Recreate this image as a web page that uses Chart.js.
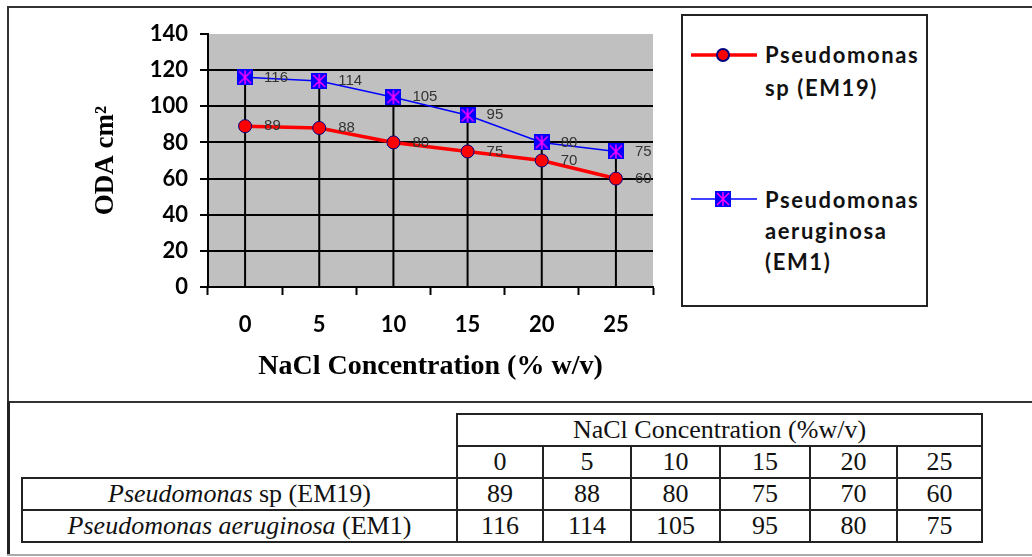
<!DOCTYPE html>
<html>
<head>
<meta charset="utf-8">
<script src="https://cdn.jsdelivr.net/npm/chart.js@4.4.1/dist/chart.umd.min.js"></script>
<style>
  html, body { margin:0; padding:0; background:#fff; width:1032px; height:557px; overflow:hidden; position:relative; }
  .frameTop { position:absolute; left:7px; top:6px; width:1025px; height:2px; background:#333; }
  .frameLeft1 { position:absolute; left:7px; top:6px; width:2px; height:396px; background:#333; }
  .frameMid { position:absolute; left:7px; top:401px; width:1025px; height:2px; background:#333; }
  .frameLeft2 { position:absolute; left:7px; top:401px; width:3px; height:154px; background:#222; }
  .frameBottom { position:absolute; left:7px; top:554px; width:1025px; height:2px; background:#aaa; }
  #chartWrap { position:absolute; left:0; top:0; width:680px; height:400px; }
  #legend { position:absolute; left:681px; top:14px; width:243px; height:289px; border:2px solid #222; box-sizing:content-box; }
  .item { position:absolute; left:0; }
  .item svg { position:absolute; left:8px; }
  .item .txt { position:absolute; left:82px; font-family:Lato, sans-serif; font-weight:bold; font-size:22px; letter-spacing:1.6px; color:#111; white-space:nowrap; }
  #tbl { position:absolute; left:21px; top:413px; border-collapse:collapse; font-family:"Liberation Serif", "Times New Roman", serif; font-size:26px; color:#111; }
  #tbl td { border:2px solid #222; text-align:center; padding:0; height:30px; line-height:28px; }
  #tbl td.blank { border:none; }
</style>
</head>
<body>
<div class="frameTop"></div>
<div class="frameLeft1"></div>
<div class="frameMid"></div>
<div class="frameLeft2"></div>
<div class="frameBottom"></div>
<div id="chartWrap"><canvas id="c" width="680" height="400"></canvas></div>
<div id="legend"></div>
<table id="tbl"></table>
<script>
// ---- data ----
const categories = ['0', '5', '10', '15', '20', '25'];
const spEM19 = [89, 88, 80, 75, 70, 60];
const aerEM1 = [116, 114, 105, 95, 80, 75];
const seriesNames = ['Pseudomonas sp (EM19)', 'Pseudomonas aeruginosa (EM1)'];
const yMin = 0, yMax = 140, yStep = 20;
const xTitle = 'NaCl Concentration (% w/v)';
const yTitle = 'ODA cm²';
const tableHeader = 'NaCl Concentration (%w/v)';

// ---- blue square marker with magenta asterisk ----
function makeStarSquare(size) {
  const cv = document.createElement('canvas');
  cv.width = size; cv.height = size;
  const g = cv.getContext('2d');
  g.fillStyle = '#0000ff';
  g.fillRect(0, 0, size, size);
  g.strokeStyle = '#ff00ff';
  g.lineWidth = 1.5;
  g.beginPath();
  g.moveTo(2, 2); g.lineTo(size - 2, size - 2);
  g.moveTo(size - 2, 2); g.lineTo(2, size - 2);
  g.moveTo(size / 2, 1); g.lineTo(size / 2, size - 1);
  g.stroke();
  return cv;
}
const starSquare = makeStarSquare(16);

// ---- plugins ----
const plotBg = {
  id: 'plotBg',
  beforeDraw(chart) {
    const { ctx, chartArea: a } = chart;
    ctx.save();
    ctx.fillStyle = '#c0c0c0';
    ctx.fillRect(a.left, a.top, a.right - a.left, a.bottom - a.top);
    ctx.restore();
  }
};
const dropLines = {
  id: 'dropLines',
  beforeDatasetsDraw(chart) {
    const { ctx, chartArea: a } = chart;
    const metas = chart.data.datasets.map((d, i) => chart.getDatasetMeta(i));
    ctx.save();
    ctx.strokeStyle = '#000';
    ctx.lineWidth = 2;
    categories.forEach((c, j) => {
      let topY = a.bottom, x = null;
      metas.forEach(m => { const el = m.data[j]; if (el) { x = el.x; topY = Math.min(topY, el.y); } });
      if (x === null) return;
      ctx.beginPath();
      ctx.moveTo(x, topY);
      ctx.lineTo(x, a.bottom);
      ctx.stroke();
    });
    ctx.restore();
  }
};
const valueLabels = {
  id: 'valueLabels',
  afterDatasetsDraw(chart) {
    const { ctx } = chart;
    ctx.save();
    ctx.font = '15px "Liberation Sans", Arial, sans-serif';
    ctx.fillStyle = '#333';
    ctx.textAlign = 'left';
    ctx.textBaseline = 'middle';
    chart.data.datasets.forEach((ds, i) => {
      chart.getDatasetMeta(i).data.forEach((el, j) => {
        ctx.fillText(String(ds.data[j]), el.x + 19, el.y);
      });
    });
    ctx.restore();
  }
};

new Chart(document.getElementById('c'), {
  type: 'line',
  data: {
    labels: categories,
    datasets: [
      {
        label: seriesNames[0],
        data: spEM19,
        borderColor: '#ff0000',
        borderWidth: 3.5,
        pointStyle: 'circle',
        pointRadius: 6.5,
        pointBackgroundColor: '#ff0000',
        pointBorderColor: '#000080',
        pointBorderWidth: 1,
        tension: 0
      },
      {
        label: seriesNames[1],
        data: aerEM1,
        borderColor: '#0000ff',
        borderWidth: 1.5,
        pointStyle: starSquare,
        pointRadius: 8,
        tension: 0
      }
    ]
  },
  options: {
    responsive: false,
    animation: false,
    devicePixelRatio: 1,
    layout: { padding: { top: 34, right: 27, left: 0, bottom: 0 } },
    plugins: { legend: { display: false }, tooltip: { enabled: false } },
    scales: {
      x: {
        type: 'category',
        offset: true,
        grid: { offset: true, drawOnChartArea: false, drawTicks: true, tickLength: 8, tickColor: '#000', tickWidth: 2 },
        border: { display: true, color: '#000', width: 2 },
        ticks: { color: '#000', padding: 17, font: { family: 'Lato', weight: 'bold', size: 22 } },
        title: { display: true, text: xTitle, color: '#000', font: { family: '"Liberation Serif"', weight: 'bold', size: 28 }, padding: { top: 0, bottom: 16 } },
        afterFit(s) { s.height = 113; }
      },
      y: {
        min: yMin, max: yMax,
        ticks: { stepSize: yStep, color: '#000', padding: 12, font: { family: 'Lato', weight: 'bold', size: 22 } },
        grid: {
          color: ctx => (ctx.tick && ctx.tick.value === yMax) ? 'rgba(0,0,0,0)' : '#000',
          lineWidth: 2, tickLength: 8, tickColor: '#000', tickWidth: 2
        },
        border: { display: true, color: '#000', width: 2 },
        title: { display: true, text: yTitle, color: '#000', font: { family: '"Liberation Serif"', weight: 'bold', size: 27 }, padding: { top: 90, bottom: 0 } },
        afterFit(s) { s.width = 208; }
      }
    }
  },
  plugins: [plotBg, dropLines, valueLabels]
});

// ---- legend (HTML) ----
const legend = document.getElementById('legend');
function legendItem(top, lineTop, svgInner, lines, lh) {
  const d = document.createElement('div');
  d.className = 'item';
  d.style.top = top + 'px';
  d.innerHTML = '<svg width="68" height="20" style="top:' + lineTop + 'px">' + svgInner + '</svg>' +
    '<div class="txt" style="line-height:' + lh + 'px">' + lines.join('<br>') + '</div>';
  legend.appendChild(d);
}
const redSvg = '<line x1="0" y1="10" x2="66" y2="10" stroke="#ff0000" stroke-width="3.5"/>' +
  '<circle cx="32" cy="10" r="6" fill="#ff0000" stroke="#000080" stroke-width="2"/>';
const blueSvg = '<line x1="0" y1="10" x2="66" y2="10" stroke="#0000ff" stroke-width="1.5"/>' +
  '<rect x="24" y="2" width="16" height="16" fill="#0000ff"/>' +
  '<path d="M26 4 L38 16 M38 4 L26 16 M32 3 L32 17" stroke="#ff00ff" stroke-width="1.5"/>';
legendItem(22, 7, redSvg, ['Pseudomonas', 'sp (EM19)'], 33);
legendItem(168, 5, blueSvg, ['Pseudomonas', 'aeruginosa', '(EM1)'], 31);

// ---- table ----
const tbl = document.getElementById('tbl');
const colW = [434, 84, 86, 87, 88, 85, 83];
let html = '<tr><td class="blank" rowspan="2" style="width:' + colW[0] + 'px"></td><td colspan="' + categories.length + '">' + tableHeader + '</td></tr>';
html += '<tr>' + categories.map((c, i) => '<td style="width:' + colW[i + 1] + 'px">' + c + '</td>').join('') + '</tr>';
html += '<tr><td><i>Pseudomonas</i> sp (EM19)</td>' + spEM19.map(v => '<td>' + v + '</td>').join('') + '</tr>';
html += '<tr><td><i>Pseudomonas aeruginosa</i> (EM1)</td>' + aerEM1.map(v => '<td>' + v + '</td>').join('') + '</tr>';
tbl.innerHTML = html;
</script>
</body>
</html>
